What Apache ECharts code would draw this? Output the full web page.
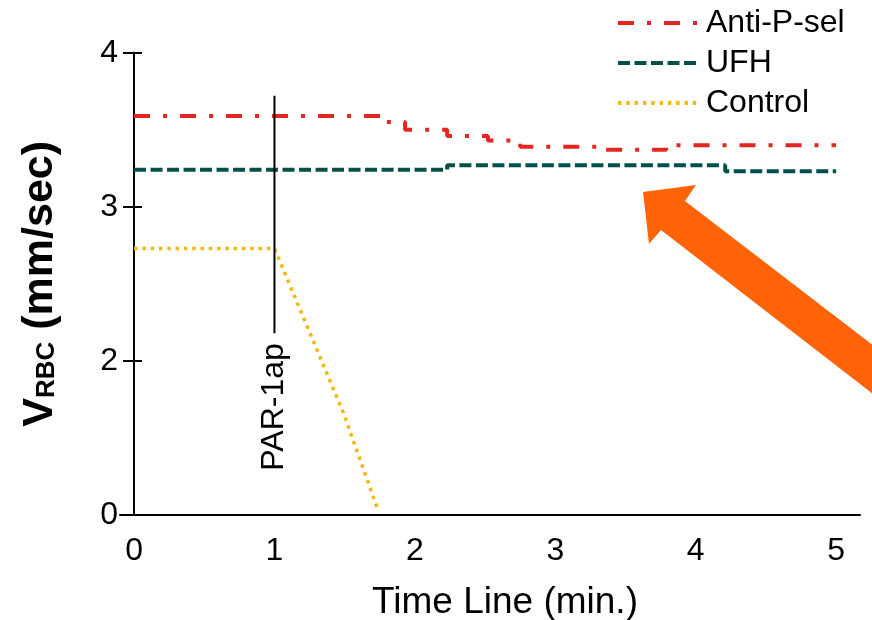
<!DOCTYPE html>
<html><head><meta charset="utf-8">
<script src="https://cdn.jsdelivr.net/npm/echarts@6/dist/echarts.min.js"></script>
<style>html,body{margin:0;padding:0;background:#fff}#c{width:872px;height:620px}</style>
</head><body><div id="c"></div>
<script>
// ---- data ----
const seriesNames = ['Anti-P-sel', 'UFH', 'Control'];
const antiPSelX = [0, 1.77, 1.93, 2.23, 2.52, 2.75, 3.35, 3.79, 5];
const antiPSelY = [3.59, 3.55, 3.50, 3.46, 3.43, 3.39, 3.37, 3.40, 3.40];
const ufhX = [0, 2.23, 4.21, 5];
const ufhY = [3.24, 3.27, 3.23, 3.23];
const controlX = [0, 1, 1.49, 1.74];
const controlY = [2.73, 2.73, 1.33, 0.05];
const xTicks = [0, 1, 2, 3, 4, 5];
const yTicks = [0, 2, 3, 4];
const markerX = [1, 1];
const markerY = [3.72, 2.18];
const markerLabel = 'PAR-1ap';

// broken y axis: the 0..2 span is drawn compressed to one unit
function ty(v) { return v >= 2 ? v : 1 + v / 2; }
function inv(t) { return t >= 2 ? t : (t - 1) * 2; }
const pts = (xs, ys) => xs.map((x, i) => [x, ty(ys[i])]);

const FONT = 'Liberation Sans, Arial, sans-serif';
const chart = echarts.init(document.getElementById('c'), null, { renderer: 'canvas' });

const yTickVals = yTicks.map(ty);
const baseY = {
  type: 'value', min: ty(0), max: 4, position: 'left', offset: -14,
  axisLine: { onZero: false, show: true, lineStyle: { color: '#000', width: 2 } },
  splitLine: { show: false }
};

chart.setOption({
  backgroundColor: '#fff',
  animation: false,
  grid: { left: 120, right: 12, top: 52.7, bottom: 105, containLabel: false, outerBoundsMode: 'none' },
  legend: {
    orient: 'vertical', left: 611, top: 2,
    itemWidth: 80, itemHeight: 20, itemGap: 8,
    data: seriesNames,
    itemStyle: { opacity: 0 },
    lineStyle: { width: 4 },
    textStyle: { fontSize: 32, color: '#000', fontFamily: FONT, padding: [0, 0, 0, 3], lineHeight: 31 }
  },
  xAxis: {
    type: 'value', min: -0.1, max: 5.17,
    axisLine: { onZero: false, lineStyle: { color: '#000', width: 2 } },
    axisTick: { show: false },
    splitLine: { show: false },
    axisLabel: { customValues: xTicks, fontSize: 32, color: '#000', fontFamily: FONT, margin: 20 },
    name: 'Time Line (min.)', nameLocation: 'middle', nameGap: 69,
    nameTextStyle: { fontSize: 37, color: '#000', fontFamily: FONT, padding: [0, 0, 0, 30] }
  },
  yAxis: [
    Object.assign({}, baseY, {
      axisTick: { show: true, customValues: yTickVals, length: 11, lineStyle: { color: '#000', width: 2 } },
      axisLabel: {
        customValues: yTickVals, fontSize: 32, color: '#000', fontFamily: FONT, margin: 16,
        formatter: v => String(Math.round(inv(v)))
      },
      name: '{v|V}{s|RBC}{v| (mm/sec)}', nameLocation: 'middle', nameGap: 72,
      nameTextStyle: {
        rich: {
          v: { fontSize: 43, fontWeight: 'bold', color: '#000', fontFamily: FONT },
          s: { fontSize: 26, fontWeight: 'bold', color: '#000', fontFamily: FONT, padding: [12, 0, 0, 0] }
        }
      }
    }),
    Object.assign({}, baseY, {
      axisTick: { show: true, inside: true, customValues: yTickVals, length: 8, lineStyle: { color: '#000', width: 2 } },
      axisLabel: { show: false }
    })
  ],
  series: [
    {
      name: seriesNames[0], type: 'line', step: 'end', symbol: 'none',
      data: pts(antiPSelX, antiPSelY),
      lineStyle: { color: '#e52620', width: 4, type: [16, 13, 4, 13] },
      itemStyle: { color: '#e52620' }
    },
    {
      name: seriesNames[1], type: 'line', step: 'end', symbol: 'none',
      data: pts(ufhX, ufhY),
      lineStyle: { color: '#03504b', width: 4, type: [12, 4.5] },
      itemStyle: { color: '#03504b' }
    },
    {
      name: seriesNames[2], type: 'line', symbol: 'none',
      data: pts(controlX, controlY),
      lineStyle: { color: '#f7b80c', width: 3.5, type: [3.5, 4.8] },
      itemStyle: { color: '#f7b80c' }
    },
    {
      name: 'marker', type: 'line', symbol: 'none',
      data: pts(markerX, markerY),
      lineStyle: { color: '#000', width: 2 }
    },
    {
      name: 'markerLabel', type: 'scatter', symbolSize: 0,
      itemStyle: { color: '#000' },
      data: [{
        value: [markerX[1], ty(markerY[1])],
        label: {
          show: true, formatter: markerLabel, position: 'bottom', distance: 10,
          rotate: 90, align: 'right', verticalAlign: 'middle',
          fontSize: 32, color: '#000', opacity: 1, fontFamily: FONT
        }
      }]
    }
  ],
  graphic: [{
    type: 'polygon',
    shape: { points: [[643, 192], [696, 185], [685, 201], [900, 366], [900, 415], [661, 230], [649, 244]] },
    style: { fill: '#ff6308' },
    silent: true
  }]
});
</script>
</body></html>
